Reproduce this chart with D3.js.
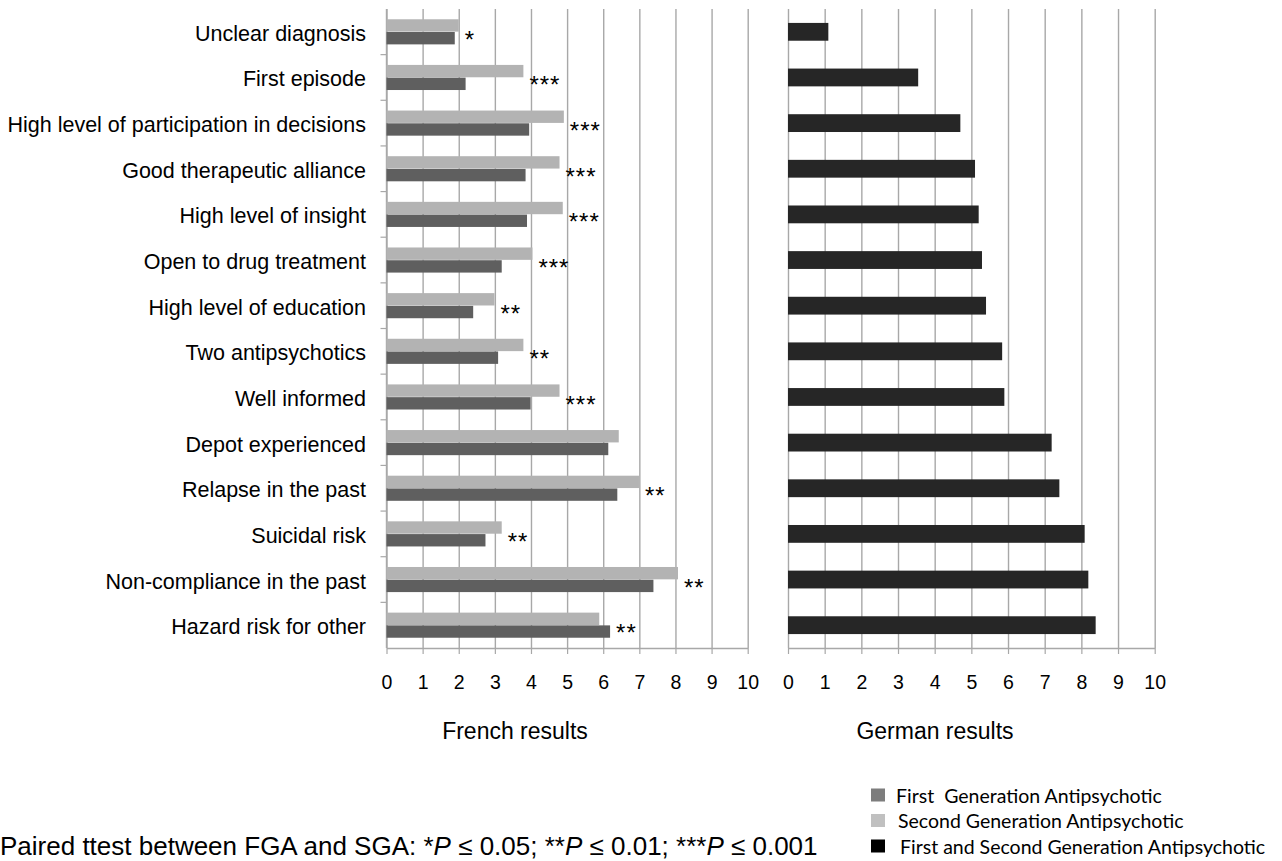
<!DOCTYPE html>
<html>
<head>
<meta charset="UTF-8">
<script src="https://d3js.org/d3.v7.min.js"></script>
<style>
  body { margin: 0; background: #fff; }
  text { font-family: Arial, "Liberation Sans", sans-serif; fill: #000; }
</style>
</head>
<body>
<script>
  // categories, top to bottom
  var categories = [
    "Unclear diagnosis",
    "First episode",
    "High level of participation in decisions",
    "Good therapeutic alliance",
    "High level of insight",
    "Open to drug treatment",
    "High level of education",
    "Two antipsychotics",
    "Well informed",
    "Depot experienced",
    "Relapse in the past",
    "Suicidal risk",
    "Non-compliance in the past",
    "Hazard risk for other"
  ];
  // French results (FGA dark, SGA light)
  var fgaFrench = [1.89, 2.19, 3.95, 3.85, 3.89, 3.19, 2.40, 3.09, 3.99, 6.14, 6.39, 2.74, 7.39, 6.19];
  var sgaFrench = [2.00, 3.79, 4.91, 4.79, 4.88, 4.04, 2.99, 3.79, 4.79, 6.43, 6.99, 3.19, 8.07, 5.89];
  // German results (FGA and SGA together)
  var german = [1.10, 3.55, 4.70, 5.10, 5.20, 5.29, 5.40, 5.84, 5.90, 7.19, 7.40, 8.09, 8.19, 8.39];
  // significance marks for the french pairs
  var stars = ["*", "***", "***", "***", "***", "***", "**", "**", "***", "", "**", "**", "**", "**"];
  var xTicks = [0, 1, 2, 3, 4, 5, 6, 7, 8, 9, 10];
  var legendLabels = [
    "First  Generation Antipsychotic",
    "Second Generation Antipsychotic",
    "First and Second Generation Antipsychotic"
  ];
  var legendColors = ["#7d7d7d", "#c0c0c0", "#000000"];

  var width = 1282, height = 861;
  var plotTop = 9, plotBottom = 648;
  var gridColor = "#a8a8a8";

  var svg = d3.select("body").append("svg")
    .attr("width", width)
    .attr("height", height);

  var y = d3.scaleBand().domain(categories).range([plotTop, plotBottom]);
  var bw = y.bandwidth();
  var sub = d3.scaleBand().domain(["sga", "fga"])
    .range([bw * 0.225, bw * 0.775])
    .paddingInner(0.03);

  var xFr = d3.scaleLinear().domain([0, 10]).range([386.5, 747.7]);
  var xDe = d3.scaleLinear().domain([0, 10]).range([788, 1154.7]);

  // grid + bottom axis for one panel
  function drawFrame(x) {
    var grid = svg.append("g")
      .attr("transform", "translate(0," + plotBottom + ")")
      .call(d3.axisBottom(x).tickValues(xTicks).tickSize(-(plotBottom - plotTop)).tickFormat(""));
    grid.select(".domain").remove();
    grid.selectAll("line").attr("stroke", gridColor).attr("stroke-width", 1.4);

    var ax = svg.append("g")
      .attr("class", "xaxis")
      .attr("transform", "translate(0," + plotBottom + ")")
      .call(d3.axisBottom(x).tickValues(xTicks).tickSize(6).tickSizeOuter(0).tickPadding(21));
    ax.select(".domain").attr("stroke", gridColor).attr("stroke-width", 1.4);
    ax.selectAll(".tick line").attr("stroke", gridColor).attr("stroke-width", 1.2);
    ax.selectAll("text").style("font-size", "19.5px").attr("fill", "#000");
  }
  drawFrame(xFr);
  drawFrame(xDe);

  // french y axis with ticks between categories
  svg.append("line")
    .attr("x1", xFr(0)).attr("x2", xFr(0))
    .attr("y1", plotTop).attr("y2", plotBottom)
    .attr("stroke", gridColor).attr("stroke-width", 1.4);
  svg.selectAll(".ytick")
    .data(categories.slice(1))
    .enter().append("line")
    .attr("class", "ytick")
    .attr("x1", xFr(0) - 6).attr("x2", xFr(0))
    .attr("y1", function (d) { return y(d); })
    .attr("y2", function (d) { return y(d); })
    .attr("stroke", gridColor).attr("stroke-width", 1.2);

  // french bars
  var rows = svg.selectAll(".frrow")
    .data(categories)
    .enter().append("g")
    .attr("class", "frrow")
    .attr("transform", function (d) { return "translate(0," + y(d) + ")"; });

  rows.append("rect")
    .attr("x", xFr(0))
    .attr("y", sub("sga"))
    .attr("height", sub.bandwidth())
    .attr("width", function (d, i) { return xFr(sgaFrench[i]) - xFr(0); })
    .attr("fill", "#b3b3b3");

  rows.append("rect")
    .attr("x", xFr(0))
    .attr("y", sub("fga"))
    .attr("height", sub.bandwidth())
    .attr("width", function (d, i) { return xFr(fgaFrench[i]) - xFr(0); })
    .attr("fill", "#5f5f5f");

  rows.append("text")
    .attr("x", function (d, i) { return xFr(Math.max(sgaFrench[i], fgaFrench[i])) + 6; })
    .attr("y", bw / 2 + 16)
    .style("font-size", "24px")
    .style("letter-spacing", "1px")
    .text(function (d, i) { return stars[i]; });

  // category labels
  svg.selectAll(".catlabel")
    .data(categories)
    .enter().append("text")
    .attr("class", "catlabel")
    .attr("x", 366)
    .attr("y", function (d) { return y(d) + bw / 2 + 2; })
    .attr("text-anchor", "end")
    .attr("dominant-baseline", "central")
    .style("font-size", "21.5px")
    .text(function (d) { return d; });

  // german bars
  svg.selectAll(".debar")
    .data(categories)
    .enter().append("rect")
    .attr("class", "debar")
    .attr("x", xDe(0))
    .attr("y", function (d) { return y(d) + bw * 0.305; })
    .attr("height", bw * 0.39)
    .attr("width", function (d, i) { return xDe(german[i]) - xDe(0); })
    .attr("fill", "#262626");

  // panel titles
  svg.append("text").attr("x", 515).attr("y", 739)
    .attr("text-anchor", "middle").style("font-size", "23px").text("French results");
  svg.append("text").attr("x", 935).attr("y", 739)
    .attr("text-anchor", "middle").style("font-size", "23px").text("German results");

  // legend
  var leg = svg.selectAll(".leg")
    .data(legendLabels)
    .enter().append("g")
    .attr("class", "leg")
    .attr("transform", function (d, i) { return "translate(871," + [795, 820.5, 846][i] + ")"; });
  leg.append("rect")
    .attr("x", 0).attr("y", -6.5)
    .attr("width", 14).attr("height", 13)
    .attr("fill", function (d, i) { return legendColors[i]; });
  leg.append("text")
    .attr("x", function (d, i) { return [25, 27, 29][i]; })
    .attr("y", 0)
    .attr("dominant-baseline", "central")
    .style("font-family", "Lato, 'Open Sans', sans-serif")
    .style("font-size", "19.5px")
    .style("white-space", "pre")
    .text(function (d) { return d; });

  // footnote
  var note = svg.append("text")
    .attr("x", 0).attr("y", 855)
    .style("font-size", "26px");
  var parts = [
    ["Paired ttest between FGA and SGA: *", false], ["P", true], [" \u2264 0.05; **", false],
    ["P", true], [" \u2264 0.01; ***", false], ["P", true], [" \u2264 0.001", false]
  ];
  parts.forEach(function (p) {
    note.append("tspan")
      .style("font-style", p[1] ? "italic" : "normal")
      .style("white-space", "pre")
      .text(p[0]);
  });
</script>
</body>
</html>
